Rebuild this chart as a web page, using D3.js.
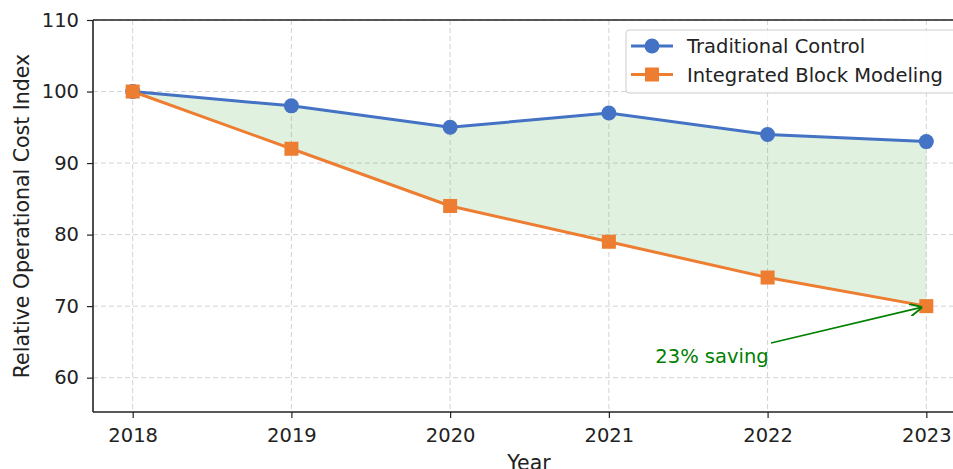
<!DOCTYPE html>
<meta charset="utf-8">
<html>
<head>
    <title>Operational cost index</title>
    <style>
        body { margin: 0; background: #fff; }
        text { font-family: "DejaVu Sans", sans-serif; }
    </style>
</head>
<body>
    <script src="https://cdnjs.cloudflare.com/ajax/libs/d3/7.8.5/d3.min.js"></script>
    <script>
        // data
        var years = [2018, 2019, 2020, 2021, 2022, 2023];
        var traditional = [100, 98, 95, 97, 94, 93];
        var integrated = [100, 92, 84, 79, 74, 70];
        var yTicks = [60, 70, 80, 90, 100, 110];
        var seriesNames = ["Traditional Control", "Integrated Block Modeling"];

        var W = 953, H = 469;
        var blue = "#4472c4", orange = "#ed7d31";

        var svg = d3.select("body").append("svg")
            .attr("width", W).attr("height", H);

        // scales (plot area runs past the right edge of the picture)
        var x = d3.scaleLinear().domain([2017.75, 2023.25]).range([93, 966]);
        var y = d3.scaleLinear().domain([55.2, 110]).range([412, 20]);

        // grid
        var grid = svg.append("g").attr("stroke", "#d3d3d3").attr("stroke-dasharray", "5,3").attr("stroke-width", 1);
        grid.selectAll(".gx").data(years).enter().append("line")
            .attr("x1", d => x(d)).attr("x2", d => x(d))
            .attr("y1", 20).attr("y2", 412);
        grid.selectAll(".gy").data(yTicks).enter().append("line")
            .attr("x1", 93).attr("x2", W)
            .attr("y1", d => y(d)).attr("y2", d => y(d));

        // fill between
        var rows = years.map((yr, i) => ({ yr: yr, a: traditional[i], b: integrated[i] }));
        svg.append("path")
            .datum(rows)
            .attr("d", d3.area().x(d => x(d.yr)).y0(d => y(d.b)).y1(d => y(d.a)))
            .attr("fill", "#2ca02c").attr("fill-opacity", 0.15);

        // lines
        var line = d3.line().x((d, i) => x(years[i])).y(d => y(d));
        svg.append("path").datum(traditional).attr("d", line)
            .attr("fill", "none").attr("stroke", blue).attr("stroke-width", 3);
        svg.append("path").datum(integrated).attr("d", line)
            .attr("fill", "none").attr("stroke", orange).attr("stroke-width", 3);

        svg.selectAll(".dot").data(traditional).enter().append("circle")
            .attr("cx", (d, i) => x(years[i])).attr("cy", d => y(d))
            .attr("r", 7.5).attr("fill", blue);
        svg.selectAll(".sq").data(integrated).enter().append("rect")
            .attr("x", (d, i) => x(years[i]) - 7).attr("y", d => y(d) - 7)
            .attr("width", 14).attr("height", 14).attr("fill", orange);

        // axes
        var xAxis = svg.append("g").attr("transform", "translate(0,412)")
            .call(d3.axisBottom(x).tickValues(years).tickFormat(d3.format("d")).tickSize(6).tickPadding(10));
        var yAxis = svg.append("g").attr("transform", "translate(93,0)")
            .call(d3.axisLeft(y).tickValues(yTicks).tickSize(6).tickPadding(8));
        [xAxis, yAxis].forEach(function (g) {
            g.select(".domain").remove();
            g.selectAll("line").attr("stroke", "#222").attr("stroke-width", 1.2);
            g.selectAll("text").attr("font-size", 19.5).attr("fill", "#222")
                .style("font-family", "DejaVu Sans");
        });

        // spines
        var spine = svg.append("g").attr("stroke", "#222").attr("stroke-width", 1.6);
        spine.append("line").attr("x1", 93).attr("x2", 93).attr("y1", 20).attr("y2", 412);
        spine.append("line").attr("x1", 93).attr("x2", W).attr("y1", 412).attr("y2", 412);
        spine.append("line").attr("x1", 93).attr("x2", W).attr("y1", 20).attr("y2", 20);

        // axis labels
        svg.append("text").attr("x", 529).attr("y", 470).attr("text-anchor", "middle")
            .attr("font-size", 20.5).attr("fill", "#222").text("Year");
        svg.append("text").attr("transform", "translate(29,216) rotate(-90)")
            .attr("text-anchor", "middle").attr("font-size", 20.5).attr("fill", "#222")
            .text("Relative Operational Cost Index");

        // annotation
        svg.append("defs").append("marker")
            .attr("id", "arr").attr("viewBox", "0 0 10 10").attr("refX", 10).attr("refY", 5)
            .attr("markerWidth", 8).attr("markerHeight", 8).attr("orient", "auto")
            .append("path").attr("d", "M0,0 L10,5 L0,10").attr("fill", "none")
            .attr("stroke", "green").attr("stroke-width", 1.5);
        svg.append("line")
            .attr("x1", 771).attr("y1", 343)
            .attr("x2", x(2023) - 4).attr("y2", y(integrated[5]) + 1)
            .attr("stroke", "green").attr("stroke-width", 1.6).attr("marker-end", "url(#arr)");
        svg.append("text").attr("x", 712).attr("y", 363).attr("text-anchor", "middle")
            .attr("font-size", 19.5).attr("fill", "green").text("23% saving");

        // legend
        var lg = svg.append("g").attr("transform", "translate(626,30)");
        lg.append("rect").attr("x", 0).attr("y", 0).attr("width", 340).attr("height", 63)
            .attr("rx", 3).attr("fill", "#fff").attr("fill-opacity", 0.85)
            .attr("stroke", "#ccc");
        seriesNames.forEach(function (name, i) {
            var cy = 16 + i * 28.5, col = i === 0 ? blue : orange;
            lg.append("line").attr("x1", 5).attr("x2", 47).attr("y1", cy).attr("y2", cy)
                .attr("stroke", col).attr("stroke-width", 3);
            if (i === 0) lg.append("circle").attr("cx", 26).attr("cy", cy).attr("r", 7.5).attr("fill", col);
            else lg.append("rect").attr("x", 19).attr("y", cy - 7).attr("width", 14).attr("height", 14).attr("fill", col);
            lg.append("text").attr("x", 61).attr("y", cy + 7).attr("font-size", 19.5)
                .attr("fill", "#222").text(name);
        });
    </script>
</body>
</html>
